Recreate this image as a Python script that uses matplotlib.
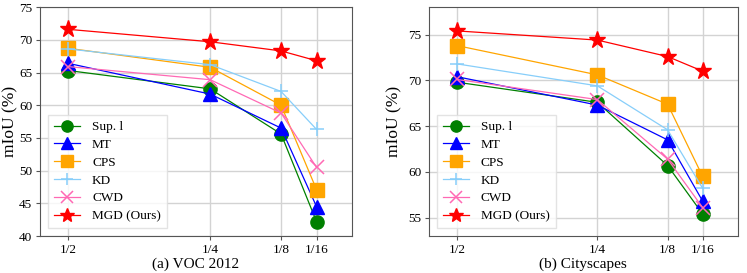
import matplotlib.pyplot as plt

plt.rcParams['font.family'] = ['Liberation Serif', 'DejaVu Serif']

ratios = [1/2, 1/4, 1/8, 1/16]
ratio_labels = ['1/2', '1/4', '1/8', '1/16']
methods = ['Sup. l', 'MT', 'CPS', 'KD', 'CWD', 'MGD (Ours)']

voc_sup = [65.3, 62.5, 55.6, 42.2]
voc_mt = [66.4, 61.7, 56.5, 44.5]
voc_cps = [68.7, 65.8, 60.0, 47.1]
voc_kd = [68.6, 66.2, 62.1, 56.3]
voc_cwd = [65.9, 63.9, 58.8, 50.5]
voc_mgd = [71.6, 69.7, 68.3, 66.8]

city_sup = [69.8, 67.6, 60.7, 55.4]
city_mt = [70.4, 67.3, 63.5, 56.8]
city_cps = [73.8, 70.6, 67.4, 59.5]
city_kd = [71.8, 69.4, 64.6, 58.2]
city_cwd = [70.1, 67.9, 61.4, 56.1]
city_mgd = [75.4, 74.4, 72.6, 71.0]

colors = ['green', 'blue', 'orange', 'lightskyblue', 'hotpink', 'red']
markers = ['o', '^', 's', '+', 'x', '*']
msizes = [9.5, 9.5, 9.5, 10, 10, 12.5]

fig = plt.figure(figsize=(7.47, 2.73), dpi=100)
ax1 = fig.add_axes([0.0535, 0.1355, 0.4177, 0.8385])
ax2 = fig.add_axes([0.574, 0.1355, 0.4137, 0.8385])


def draw(ax, series, xlabel, ylim, ylab_x):
    for vals, name, c, m, ms in zip(series, methods, colors, markers, msizes):
        ax.plot(ratios, vals, color=c, marker=m, markersize=ms, linewidth=0.9,
                label=name, markeredgewidth=1.0 if m not in '+x' else 1.1)
    ax.set_xlim(0.55, 0.0)
    ax.set_ylim(*ylim)
    ax.set_xticks(ratios)
    ax.set_xticklabels(ratio_labels)
    ax.tick_params(labelsize=9.5, length=3, pad=2.5, color='#555555')
    ax.grid(True, color='#d3d3d3', linewidth=1.0)
    ax.set_axisbelow(True)
    ax.set_ylabel('mIoU (%)', fontsize=12.5)
    ax.yaxis.set_label_coords(ylab_x, 0.5)
    ax.set_xlabel(xlabel, fontsize=11, labelpad=1)
    for s in ax.spines.values():
        s.set_color('#555555')
    ax.legend(loc='lower left', fontsize=9.5, fancybox=False, edgecolor='#dddddd',
              borderpad=0.45, labelspacing=0.42, handlelength=2.0,
              handletextpad=0.9, markerscale=0.85, borderaxespad=0.6)


draw(ax1, [voc_sup, voc_mt, voc_cps, voc_kd, voc_cwd, voc_mgd], '(a) VOC 2012', (40, 75), -0.068)
draw(ax2, [city_sup, city_mt, city_cps, city_kd, city_cwd, city_mgd], '(b) Cityscapes', (53, 78), -0.084)
ax2.set_yticks([55, 60, 65, 70, 75])

fig.savefig('out.png', dpi=100)
